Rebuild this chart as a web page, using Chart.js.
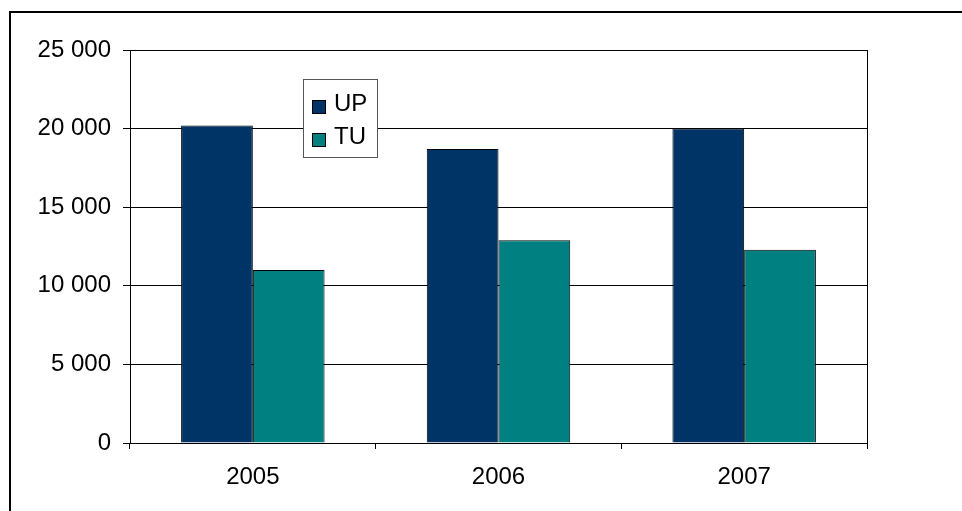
<!DOCTYPE html>
<html>
<head>
<meta charset="utf-8">
<script src="https://cdn.jsdelivr.net/npm/chart.js@4.4.0/dist/chart.umd.min.js"></script>
<style>
  html, body { margin: 0; padding: 0; background: #fff; }
  #frame { position: absolute; left: 9px; top: 11px; width: 960px; height: 510px;
           border-left: 2px solid #000; border-top: 2px solid #000; }
  #wrap { position: absolute; left: 0; top: 0; width: 962px; height: 511px; }
</style>
</head>
<body>
<div id="frame"></div>
<div id="wrap"><canvas id="chart" width="962" height="511"></canvas></div>
<script>
const years = ["2005", "2006", "2007"];
const upValues = [20200, 18700, 20000];
const tuValues = [11000, 12900, 12300];
const yTicks = [0, 5000, 10000, 15000, 20000, 25000];

const fmt = v => String(v).replace(/\B(?=(\d{3})+(?!\d))/g, " ");
const FONT = "'Liberation Sans', Arial, sans-serif";

// legend box drawn inside the plot, like the original
const boxLegend = {
  id: "boxLegend",
  afterDraw(chart) {
    const ctx = chart.ctx;
    const x = 303, y = 79, w = 74, h = 78;
    ctx.save();
    ctx.fillStyle = "#fff";
    ctx.fillRect(x, y, w, h);
    ctx.strokeStyle = "#555";
    ctx.lineWidth = 1;
    ctx.strokeRect(x + 0.5, y + 0.5, w, h);
    ctx.font = "24px " + FONT;
    ctx.textBaseline = "middle";
    chart.data.datasets.forEach((ds, i) => {
      const cy = y + 27 + i * 33;
      ctx.fillStyle = ds.backgroundColor;
      ctx.fillRect(x + 9, cy - 6, 13, 13);
      ctx.strokeStyle = "#000";
      ctx.strokeRect(x + 9.5, cy - 5.5, 13, 13);
      ctx.fillStyle = "#000";
      ctx.fillText(ds.label, x + 31, cy - 2);
    });
    ctx.restore();
  }
};

new Chart(document.getElementById("chart"), {
  type: "bar",
  data: {
    labels: years,
    datasets: [
      { label: "UP", data: upValues, backgroundColor: "#003366", borderColor: "#000", borderWidth: 1 },
      { label: "TU", data: tuValues, backgroundColor: "#008080", borderColor: "#000", borderWidth: 1 }
    ]
  },
  options: {
    responsive: false,
    animation: false,
    layout: { padding: { top: 50, right: 95, left: 0, bottom: 0 } },
    datasets: { bar: { categoryPercentage: 0.584, barPercentage: 1 } },
    plugins: { legend: { display: false }, tooltip: { enabled: false } },
    scales: {
      x: {
        grid: { offset: true, drawOnChartArea: false, color: "#000", tickLength: 6 },
        border: { color: "#000", width: 1 },
        ticks: { color: "#000", font: { family: FONT, size: 24 }, padding: 14 },
        afterFit: s => { s.height = 68; }
      },
      y: {
        min: 0, max: 25000,
        afterBuildTicks: s => { s.ticks = yTicks.map(v => ({ value: v })); },
        grid: { color: "#000", tickLength: 7 },
        border: { color: "#000", width: 1 },
        ticks: { color: "#000", font: { family: FONT, size: 24 }, padding: 12,
                 callback: v => fmt(v) },
        afterFit: s => { s.width = 130; }
      }
    }
  },
  plugins: [boxLegend, {
    id: "rightBorder",
    afterDraw(chart) {
      const a = chart.chartArea, ctx = chart.ctx;
      ctx.save();
      ctx.strokeStyle = "#000";
      ctx.lineWidth = 1;
      ctx.beginPath();
      ctx.moveTo(Math.round(a.right) + 0.5, a.top);
      ctx.lineTo(Math.round(a.right) + 0.5, a.bottom);
      ctx.stroke();
      ctx.restore();
    }
  }]
});
</script>
</body>
</html>
